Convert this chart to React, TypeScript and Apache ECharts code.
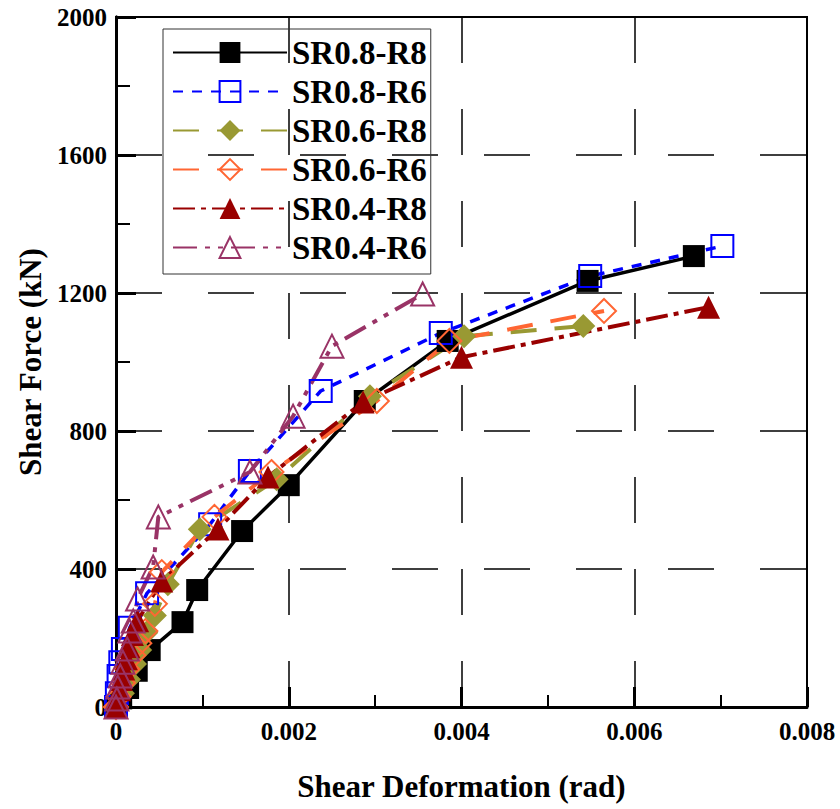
import React, { useEffect, useRef } from "react";
import * as echarts from "echarts";

const seriesNames = ["SR0.8-R8", "SR0.8-R6", "SR0.6-R8", "SR0.6-R6", "SR0.4-R8", "SR0.4-R6"];

const sr08r8: number[][] = [
  [0, 0], [0.00006, 25], [0.00014, 55], [0.00024, 105], [0.00039, 165], [0.00077, 246],
  [0.00094, 339], [0.00146, 510], [0.002, 643], [0.00288, 887], [0.00384, 1061],
  [0.00546, 1235], [0.00669, 1307],
];
const sr08r6: number[][] = [
  [0, 0], [0.00001, 40], [0.00003, 90], [0.00005, 130], [0.00008, 168], [0.00016, 230],
  [0.00036, 330], [0.00109, 530], [0.00155, 684], [0.00237, 916], [0.00376, 1084],
  [0.00549, 1249], [0.00702, 1336],
];
const sr06r8: number[][] = [
  [0, 0], [0.00008, 40], [0.00015, 80], [0.00022, 125], [0.00028, 165], [0.00035, 215],
  [0.00045, 265], [0.0006, 356], [0.00097, 515], [0.00186, 660], [0.00294, 901],
  [0.00403, 1075], [0.00541, 1104],
];
const sr06r6: number[][] = [
  [0, 0], [0.00003, 30], [0.00008, 70], [0.00013, 110], [0.0002, 150], [0.00027, 185],
  [0.00034, 220], [0.00045, 299], [0.00053, 391], [0.00114, 551], [0.0018, 681],
  [0.00302, 887], [0.00386, 1061], [0.00565, 1148],
];
const sr04r8: number[][] = [
  [0, 0], [0.00002, 25], [0.00004, 50], [0.00006, 80], [0.00009, 110], [0.00012, 140],
  [0.00015, 175], [0.00019, 210], [0.00025, 250], [0.00053, 365], [0.00118, 516],
  [0.00176, 667], [0.00286, 884], [0.004, 1014], [0.00686, 1159],
];
const sr04r6: number[][] = [
  [0, 0], [0.00001, 23], [0.00002, 58], [0.00005, 90], [0.00008, 130], [0.00013, 168],
  [0.00016, 220], [0.0002, 249], [0.00025, 313], [0.00043, 406], [0.00049, 551],
  [0.00155, 681], [0.00205, 843], [0.0025, 1046], [0.00355, 1197],
];

const xTicks = [0, 0.002, 0.004, 0.006, 0.008];
const yTicks = [0, 400, 800, 1200, 1600, 2000];

const FONT = "Liberation Serif";

export default function App() {
  const ref = useRef<HTMLDivElement>(null);
  useEffect(() => {
    if (!ref.current) return;
    const chart = echarts.init(ref.current, undefined, { renderer: "svg" });
    const mk = (
      name: string,
      data: number[][],
      color: string,
      symbol: string,
      size: number,
      hollow: boolean,
      width: number,
      dash: number[] | "solid"
    ) => ({
      name,
      type: "line",
      data,
      symbol,
      symbolSize: size,
      showAllSymbol: true,
      itemStyle: hollow
        ? { color: "rgba(255,255,255,0)", borderColor: color, borderWidth: 2 }
        : { color, borderWidth: 0 },
      lineStyle: { color, width, type: dash },
      emphasis: { disabled: true },
    });
    const labelStyle = { fontFamily: FONT, fontWeight: "bold" as const, color: "#000" };
    chart.setOption({
      animation: false,
      backgroundColor: "#ffffff",
      textStyle: { fontFamily: FONT, fontWeight: "bold" },
      grid: { left: 116, right: 33, top: 17, bottom: 102, show: true, borderColor: "#000", borderWidth: 2 },
      legend: {
        left: 163,
        top: 29,
        orient: "vertical",
        backgroundColor: "transparent",
        borderColor: "#333",
        borderWidth: 1,
        padding: [7, 4, 10, 9],
        itemWidth: 114,
        itemHeight: 26,
        itemGap: 6,
        textStyle: { ...labelStyle, fontSize: 33 },
        data: seriesNames,
      },
      xAxis: [
        {
          type: "value",
          min: xTicks[0],
          max: xTicks[xTicks.length - 1],
          interval: 0.002,
          name: "Shear Deformation (rad)",
          nameLocation: "middle",
          nameGap: 64,
          nameTextStyle: { ...labelStyle, fontSize: 31 },
          axisLine: { show: true, lineStyle: { color: "#000", width: 3 } },
          axisTick: { show: true, inside: true, length: 20, lineStyle: { color: "#000", width: 3 } },
          minorTick: { show: true, splitNumber: 2, length: 12, lineStyle: { color: "#000", width: 2 } },
          splitLine: { show: true, lineStyle: { color: "#000", width: 1.5, type: [46, 46] } },
          axisLabel: {
            ...labelStyle,
            margin: 12,
            fontSize: 25,
            formatter: (v: number) => (v === 0 ? "0" : v.toFixed(3)),
          },
        },
        {
          type: "value",
          position: "top",
          min: xTicks[0],
          max: xTicks[xTicks.length - 1],
          interval: 0.002,
          axisLine: { show: true, lineStyle: { color: "#000", width: 2 } },
          axisTick: { show: false },
          axisLabel: { show: false },
          splitLine: { show: false },
        },
      ],
      yAxis: [
        {
          type: "value",
          min: yTicks[0],
          max: yTicks[yTicks.length - 1],
          interval: 400,
          name: "Shear Force (kN)",
          nameLocation: "middle",
          nameGap: 70,
          nameTextStyle: { ...labelStyle, fontSize: 31 },
          axisLine: { show: true, lineStyle: { color: "#000", width: 3 } },
          axisTick: { show: true, inside: true, length: 20, lineStyle: { color: "#000", width: 3 } },
          minorTick: { show: true, splitNumber: 2, length: 14, lineStyle: { color: "#000", width: 2 } },
          splitLine: { show: true, lineStyle: { color: "#000", width: 1.5, type: [46, 46] } },
          axisLabel: {
            ...labelStyle,
            margin: 9,
            fontSize: 25,
            formatter: (v: number) => String(v),
          },
        },
        {
          type: "value",
          position: "right",
          min: yTicks[0],
          max: yTicks[yTicks.length - 1],
          interval: 400,
          axisLine: { show: true, lineStyle: { color: "#000", width: 3 } },
          axisTick: { show: false },
          axisLabel: { show: false },
          splitLine: { show: false },
        },
      ],
      series: [
        mk(seriesNames[0], sr08r8, "#000000", "rect", 22, false, 3.5, "solid"),
        mk(seriesNames[1], sr08r6, "#0000FF", "rect", 22, true, 3.5, [10, 9]),
        mk(seriesNames[2], sr06r8, "#999933", "diamond", 24, false, 4, [26, 18]),
        mk(seriesNames[3], sr06r6, "#FF6633", "diamond", 24, true, 4, [26, 18]),
        mk(seriesNames[4], sr04r8, "#990000", "triangle", 23, false, 4, [22, 6, 5, 6]),
        mk(seriesNames[5], sr04r6, "#993366", "triangle", 23, true, 4, [24, 8, 5, 8, 5, 8]),
      ],
    });
    return () => chart.dispose();
  }, []);
  return (
    <div
      ref={ref}
      style={{ position: "absolute", left: 0, top: 0, width: 840, height: 809 }}
    />
  );
}
